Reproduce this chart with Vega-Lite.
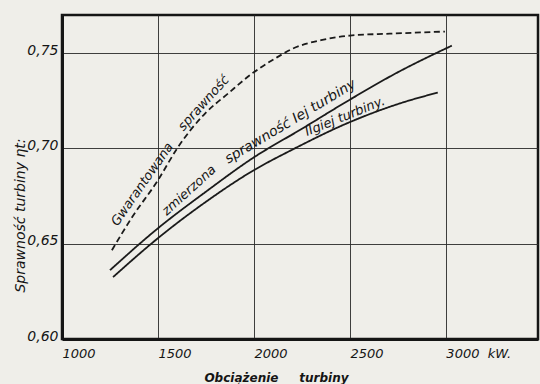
{
  "$schema": "https://vega.github.io/schema/vega-lite/v6.json",
  "autosize": {"type": "none"},
  "padding": {"left": 62, "top": 15, "right": 2, "bottom": 45},
  "width": 476,
  "height": 324,
  "background": "#efeee9",
  "config": {
    "view": {"stroke": "#151515", "strokeWidth": 2.5},
    "font": "DejaVu Sans",
    "axis": {
      "labelFont": "DejaVu Sans",
      "labelFontStyle": "italic",
      "labelColor": "#151515",
      "titleFont": "DejaVu Sans",
      "titleFontStyle": "italic",
      "titleColor": "#151515",
      "gridColor": "#2a2a2a",
      "gridWidth": 1,
      "gridOpacity": 0.9,
      "domainColor": "#151515",
      "domainWidth": 3,
      "ticks": false
    }
  },
  "datasets": {
    "curves": [
      {"series": "Gwarantowana", "load": 1260, "eff": 0.6466},
      {"series": "Gwarantowana", "load": 1365, "eff": 0.6639},
      {"series": "Gwarantowana", "load": 1500, "eff": 0.6833},
      {"series": "Gwarantowana", "load": 1600, "eff": 0.7000},
      {"series": "Gwarantowana", "load": 1745, "eff": 0.7183},
      {"series": "Gwarantowana", "load": 1865, "eff": 0.7288},
      {"series": "Gwarantowana", "load": 1990, "eff": 0.7393},
      {"series": "Gwarantowana", "load": 2109, "eff": 0.7471},
      {"series": "Gwarantowana", "load": 2203, "eff": 0.7524},
      {"series": "Gwarantowana", "load": 2350, "eff": 0.7568},
      {"series": "Gwarantowana", "load": 2500, "eff": 0.7592},
      {"series": "Gwarantowana", "load": 2708, "eff": 0.7602},
      {"series": "Gwarantowana", "load": 2995, "eff": 0.7613},
      {"series": "Turbina I", "load": 1250, "eff": 0.6361},
      {"series": "Turbina I", "load": 1500, "eff": 0.6581},
      {"series": "Turbina I", "load": 1750, "eff": 0.6773},
      {"series": "Turbina I", "load": 1995, "eff": 0.6950},
      {"series": "Turbina I", "load": 2250, "eff": 0.7103},
      {"series": "Turbina I", "load": 2500, "eff": 0.7256},
      {"series": "Turbina I", "load": 2760, "eff": 0.7405},
      {"series": "Turbina I", "load": 2943, "eff": 0.7497},
      {"series": "Turbina I", "load": 3031, "eff": 0.7539},
      {"series": "Turbina II", "load": 1266, "eff": 0.6325},
      {"series": "Turbina II", "load": 1500, "eff": 0.6529},
      {"series": "Turbina II", "load": 1750, "eff": 0.6720},
      {"series": "Turbina II", "load": 1995, "eff": 0.6883},
      {"series": "Turbina II", "load": 2203, "eff": 0.6995},
      {"series": "Turbina II", "load": 2495, "eff": 0.7136},
      {"series": "Turbina II", "load": 2760, "eff": 0.7236},
      {"series": "Turbina II", "load": 2958, "eff": 0.7293}
    ],
    "labels": [
      {"part": "g1", "text": "Gwarantowana", "load": 1418, "eff": 0.6812},
      {"part": "g2", "text": "sprawność", "load": 1738, "eff": 0.7238},
      {"part": "m1", "text": "zmierzona", "load": 1662, "eff": 0.6780},
      {"part": "m2", "text": "sprawność Iej turbiny", "load": 2190, "eff": 0.7140},
      {"part": "t2", "text": "IIgiej turbiny.", "load": 2474, "eff": 0.7168}
    ]
  },
  "layer": [
    {
      "data": {"name": "curves"},
      "mark": {"type": "line", "interpolate": "monotone", "color": "#1a1a1a", "strokeWidth": 1.8},
      "encoding": {
        "x": {
          "field": "load", "type": "quantitative",
          "scale": {"domain": [1000, 3480], "nice": false, "zero": false},
          "axis": {
            "values": [1000, 1500, 2000, 2500, 3000],
            "format": "d",
            "labelAlign": "left",
            "labelBaseline": "top",
            "labelPadding": 8,
            "labelFontSize": 13,
            "labelExpr": "datum.value == 3000 ? '3000\u00a0\u00a0kW.' : datum.label",
            "title": "Obciążenie\u00a0\u00a0\u00a0\u00a0\u00a0turbiny",
            "titleFontSize": 12,
            "titleFontWeight": "bold",
            "titleX": 214,
            "titleY": 42,
            "titleBaseline": "alphabetic"
          }
        },
        "y": {
          "field": "eff", "type": "quantitative",
          "scale": {"domain": [0.6, 0.77], "nice": false, "zero": false},
          "axis": {
            "values": [0.6, 0.65, 0.7, 0.75],
            "labelExpr": "replace(format(datum.value, '.2f'), '.', ',')",
            "labelFontSize": 14,
            "labelPadding": 4,
            "labelBaseline": "middle",
            "labelOffset": -3,
            "title": "Sprawność turbiny ηt:",
            "titleFontSize": 14,
            "titleFontWeight": "normal",
            "titleAngle": -90,
            "titleX": -42,
            "titleY": 200,
            "titleAlign": "center",
            "titleBaseline": "middle"
          }
        },
        "detail": {"field": "series", "type": "nominal"},
        "strokeDash": {
          "field": "series", "type": "nominal",
          "scale": {"domain": ["Gwarantowana", "Turbina I", "Turbina II"], "range": [[6, 3.5], [1, 0], [1, 0]]},
          "legend": null
        }
      }
    },
    {
      "data": {"name": "labels"},
      "transform": [{"filter": "datum.part == 'g1'"}],
      "mark": {"type": "text", "angle": -55, "fontSize": 13, "fontStyle": "italic", "color": "#151515"},
      "encoding": {"x": {"field": "load", "type": "quantitative"}, "y": {"field": "eff", "type": "quantitative"}, "text": {"field": "text"}}
    },
    {
      "data": {"name": "labels"},
      "transform": [{"filter": "datum.part == 'g2'"}],
      "mark": {"type": "text", "angle": -48, "fontSize": 13, "fontStyle": "italic", "color": "#151515"},
      "encoding": {"x": {"field": "load", "type": "quantitative"}, "y": {"field": "eff", "type": "quantitative"}, "text": {"field": "text"}}
    },
    {
      "data": {"name": "labels"},
      "transform": [{"filter": "datum.part == 'm1'"}],
      "mark": {"type": "text", "angle": -42, "fontSize": 13, "fontStyle": "italic", "color": "#151515"},
      "encoding": {"x": {"field": "load", "type": "quantitative"}, "y": {"field": "eff", "type": "quantitative"}, "text": {"field": "text"}}
    },
    {
      "data": {"name": "labels"},
      "transform": [{"filter": "datum.part == 'm2'"}],
      "mark": {"type": "text", "angle": -31, "fontSize": 14, "fontStyle": "italic", "color": "#151515"},
      "encoding": {"x": {"field": "load", "type": "quantitative"}, "y": {"field": "eff", "type": "quantitative"}, "text": {"field": "text"}}
    },
    {
      "data": {"name": "labels"},
      "transform": [{"filter": "datum.part == 't2'"}],
      "mark": {"type": "text", "angle": -22, "fontSize": 13, "fontStyle": "italic", "color": "#151515"},
      "encoding": {"x": {"field": "load", "type": "quantitative"}, "y": {"field": "eff", "type": "quantitative"}, "text": {"field": "text"}}
    }
  ]
}
